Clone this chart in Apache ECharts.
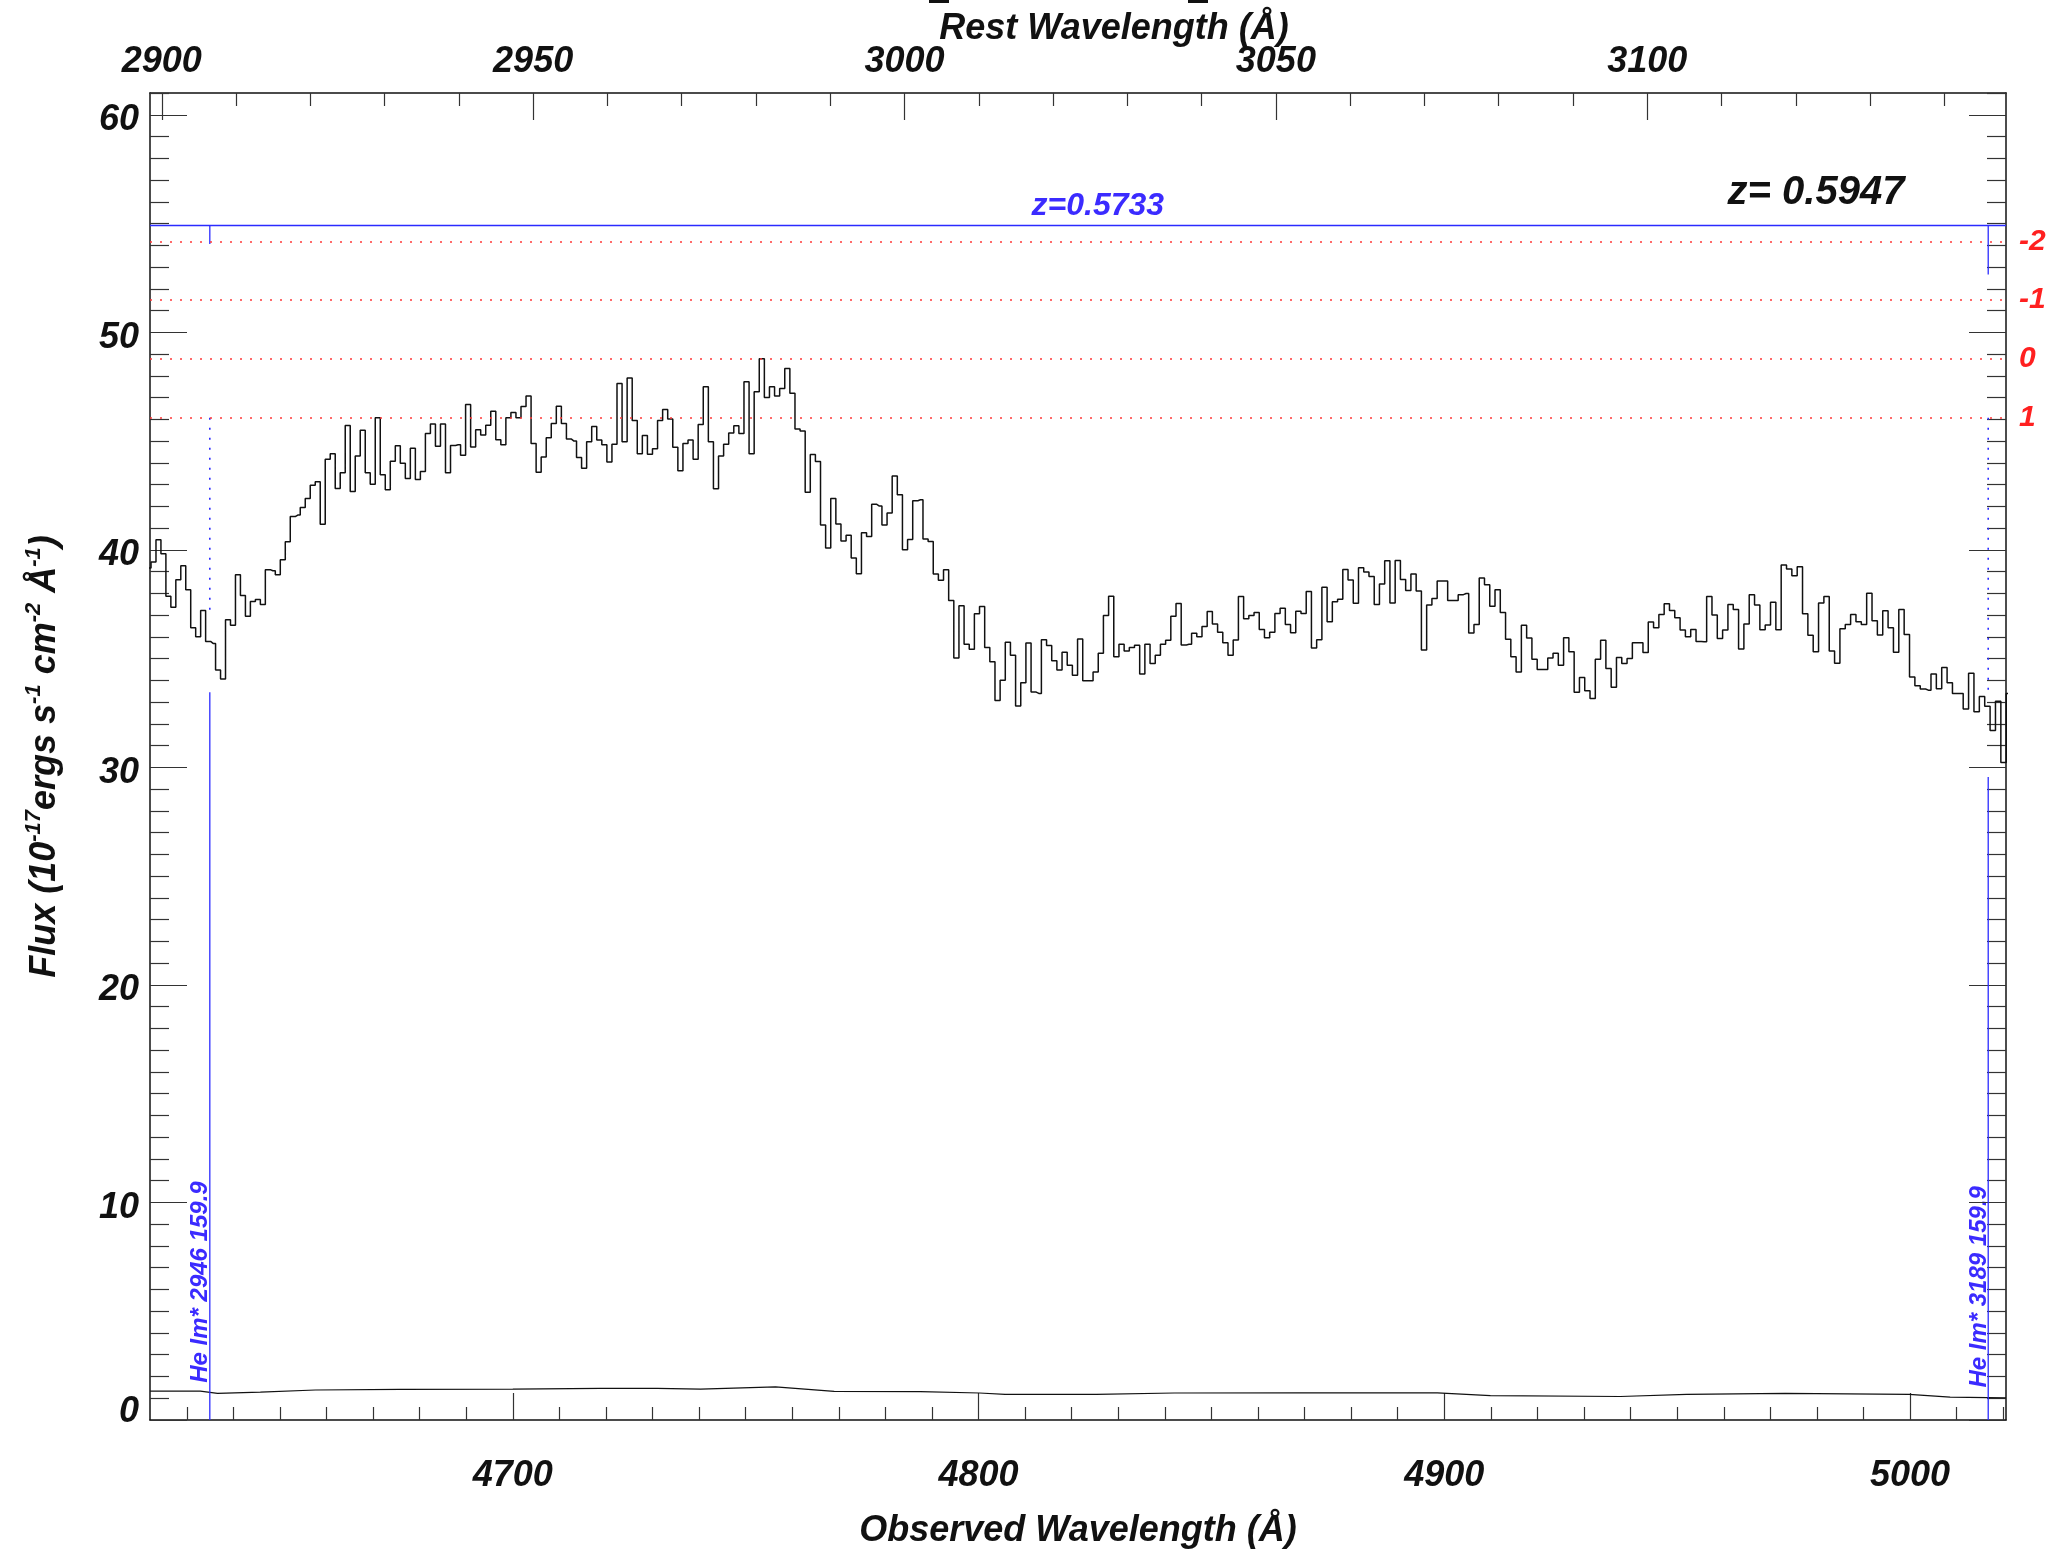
<!DOCTYPE html>
<html>
<head>
<meta charset="utf-8">
<script src="https://cdn.jsdelivr.net/npm/echarts@6.0.0/dist/echarts.min.js"></script>
<style>
html,body{margin:0;padding:0;background:#fff;}
#chart{width:2059px;height:1554px;}
</style>
</head>
<body>
<div id="chart"></div>
<script>
// ---------------- data ----------------
const zEmission = 0.5947;
const zAbsorber = 0.5733;
const obsRange = [4622.1, 5020.6];
const fluxRange = [0, 61];

const obsMajorTicks = [4700, 4800, 4900, 5000];
const restMajorTicks = [2900, 2950, 3000, 3050, 3100];
const fluxMajorTicks = [0, 10, 20, 30, 40, 50, 60];

// spectrum pixel grid (SDSS-like log-linear sampling)
const logLamStart = 3.66481;
const dLogLam = 1e-4;
const fluxValues = [
  39.16,
  39.44, 40.46, 39.82, 37.87, 37.36, 38.63, 39.27, 38.16, 36.42, 36.01,
  37.21, 35.79, 35.70, 34.48, 34.06, 36.79, 36.53, 38.86, 37.90, 36.95,
  37.62, 37.72, 37.49, 39.09, 39.04, 38.86, 39.54, 40.37, 41.53, 41.60,
  41.95, 42.36, 42.97, 43.13, 41.18, 44.16, 44.42, 42.82, 43.54, 45.72,
  42.68, 44.31, 45.50, 43.54, 43.02, 46.07, 43.45, 42.76, 44.07, 44.79,
  43.98, 43.28, 44.67, 43.23, 43.60, 45.35, 45.79, 44.76, 45.79, 43.54,
  44.80, 44.83, 44.35, 46.68, 44.73, 45.52, 45.28, 45.73, 46.37, 45.06,
  44.83, 46.07, 46.31, 46.07, 46.59, 47.07, 44.89, 43.57, 44.27, 45.15,
  45.81, 46.60, 45.81, 45.09, 45.00, 44.25, 43.75, 44.97, 45.67, 45.05,
  44.83, 44.04, 44.85,
  47.65, 44.97, 47.90, 45.95, 44.42, 45.26, 44.39, 44.65, 45.95, 46.45,
  46.01, 44.71, 43.63, 44.89, 45.05, 44.16, 45.76, 47.50, 44.97, 42.81,
  44.31, 44.85, 45.37, 45.70, 45.35, 47.73, 44.42, 47.27, 48.78, 47.00,
  47.50, 47.07, 47.42, 48.34, 47.20, 45.56, 45.46, 42.65, 44.38, 44.06,
  41.14, 40.09, 42.36, 41.19, 40.41, 40.67, 39.62, 38.90, 40.78, 40.61,
  42.09, 42.01, 41.14, 41.69, 43.39, 42.53, 40.00, 40.47, 42.26, 42.30,
  40.50, 40.38, 38.89, 38.60, 39.09, 37.67, 35.03, 37.43, 35.66, 35.43,
  37.06, 37.39, 35.51, 34.85, 33.07, 34.01, 35.75, 35.15, 32.82, 33.89,
  35.72, 33.46, 33.40, 35.87, 35.60, 34.90, 34.48, 35.29, 34.70, 34.24,
  35.90,
  33.98, 33.98, 34.39, 35.25, 36.98, 37.87, 35.09, 35.66, 35.35, 35.51,
  35.61, 34.29, 35.66, 34.77, 35.15, 35.66, 35.84, 36.95, 37.53, 35.63,
  35.66, 36.16, 36.01, 36.48, 37.17, 36.59, 36.21, 35.73, 35.15, 35.86,
  37.85, 36.83, 36.98, 37.12, 36.34, 35.96, 36.21, 37.07, 37.32, 36.57,
  36.19, 37.18, 37.07, 38.08, 35.49, 35.87, 38.28, 36.69, 37.61, 37.73,
  39.10, 38.61, 37.55, 39.18, 38.98, 38.77, 37.49, 38.43, 39.50, 37.56,
  39.51, 38.64, 38.13, 38.89, 38.11, 35.40, 37.46, 37.76, 38.57, 38.57,
  37.67, 37.67, 37.94, 37.99, 36.18, 36.57, 38.71, 38.39, 37.41, 38.17,
  37.12, 35.89, 35.09, 34.38, 36.53, 35.95, 34.97, 34.50, 34.50,
  35.03, 35.25, 34.70, 35.96, 35.31, 33.45, 34.13, 33.52, 33.17, 34.97,
  35.84, 34.54, 33.68, 35.05, 34.77, 35.00, 35.73, 35.73, 35.28, 36.68,
  36.42, 37.03, 37.52, 37.21, 36.88, 36.31, 36.01, 36.34, 35.79, 35.78,
  37.85, 37.00, 35.93, 36.31, 37.49, 37.26, 35.44, 36.59, 37.94, 37.46,
  36.33, 36.54, 37.59, 36.33, 39.30, 39.12, 38.81, 39.22, 37.06, 36.07,
  35.32, 37.56, 37.85, 35.35, 34.79, 36.37, 36.57, 37.03, 36.69, 36.57,
  38.00, 36.74, 36.08, 37.20, 36.42, 35.29, 37.26, 36.11, 34.16, 33.75,
  33.60, 33.55, 34.29, 33.61, 34.59, 33.89, 33.40, 33.40, 32.68, 34.33,
  32.56, 33.26, 32.81, 31.69, 33.04, 30.22, 33.40
];

// error spectrum (read coarsely)
const errWave = [4622.1, 4632.9, 4636.6, 4645.8, 4657.6, 4675.8, 4700.0, 4718.8, 4731.0, 4740.3, 4756.4, 4769.0, 4787.5, 4800.2, 4805.7, 4825.3, 4842.0, 4869.0, 4898.5, 4909.9, 4937.8, 4952.0, 4973.2, 4999.8, 5008.6, 5020.6];
const errValues = [1.33, 1.33, 1.22, 1.28, 1.38, 1.41, 1.42, 1.45, 1.45, 1.42, 1.52, 1.32, 1.30, 1.24, 1.18, 1.18, 1.24, 1.25, 1.25, 1.12, 1.08, 1.18, 1.22, 1.18, 1.05, 1.02];

// red dotted reference levels and their labels
const refLevels = [54.18, 51.48, 48.78, 46.07];
const refLabels = ['-2', '-1', '0', '1'];
const absorberLevel = 54.9;

// He I* line markers (absorber frame)
const heRest = [2946.0, 3188.7];
const heLabels = ['He Im* 2946 159.9', 'He Im* 3189 159.9'];
const heTickEnd = [54.06, 52.66];
const heDotTop = [46.07, 46.07];
const heDotBottom = [37.21, 33.37];
const heSolidTop = [33.45, 29.56];
const heLabelBase = [1.71, 1.49];

// annotation anchors
const zAbsLabelPos = [4825.6, absorberLevel];
const zEmLabelPos = [4979.8, 56.42];

// ---------------- derived ----------------
const obsWave = fluxValues.map((_, i) => Math.pow(10, logLamStart + i * dLogLam));
const restRange = obsRange.map(v => v / (1 + zEmission));
const obsMinorTicks = [];
for (let v = 4630; v <= 5020; v += 10) if (v % 100 !== 0) obsMinorTicks.push(v);
const restMinorTicks = [];
for (let v = 2900; v <= 3140; v += 10) if (v % 50 !== 0) restMinorTicks.push(v);
const fluxMinorTicks = [];
for (let v = 1; v <= 61; v += 1) if (v % 10 !== 0) fluxMinorTicks.push(v);
const heObs = heRest.map(r => r * (1 + zAbsorber));

const FONT = '"Liberation Sans", Arial, Helvetica, sans-serif';
const tickFont = {fontFamily: FONT, fontSize: 36, fontWeight: 'bold', fontStyle: 'italic', color: '#111'};
const titleFont = {fontFamily: FONT, fontSize: 36, fontWeight: 'bold', fontStyle: 'italic', color: '#111'};
const tickLine = {color: '#333', width: 1.2};
const axisLineStyle = {color: '#111', width: 1.5};
const fmt = v => String(v);

function xAx(position, range, ticks, len, major, extra) {
  return Object.assign({
    type: 'value', position: position, min: range[0], max: range[1],
    axisLine: {show: major, onZero: false, lineStyle: axisLineStyle},
    axisTick: {show: true, inside: true, length: len, customValues: ticks, lineStyle: tickLine},
    axisLabel: {show: false},
    nameMoveOverlap: false,
    splitLine: {show: false}, minorTick: {show: false}, axisPointer: {show: false}
  }, extra || {});
}
function yAx(position, ticks, len, major, extra) {
  return Object.assign({
    type: 'value', position: position, min: fluxRange[0], max: fluxRange[1],
    axisLine: {show: major, onZero: false, lineStyle: axisLineStyle},
    axisTick: {show: true, inside: true, length: len, customValues: ticks, lineStyle: tickLine},
    axisLabel: {show: false},
    nameMoveOverlap: false,
    splitLine: {show: false}, minorTick: {show: false}, axisPointer: {show: false}
  }, extra || {});
}

const heSeries = [];
heObs.forEach((w, i) => {
  const blue = '#2b2bff';
  heSeries.push({type: 'line', symbol: 'none', silent: true, animation: false, clip: true,
    data: [[w, absorberLevel], [w, heTickEnd[i]]], lineStyle: {color: blue, width: 1.3}});
  heSeries.push({type: 'line', symbol: 'none', silent: true, animation: false, clip: true,
    data: [[w, heDotTop[i]], [w, heDotBottom[i]]], lineStyle: {color: blue, width: 1.6, type: [2, 8]}});
  heSeries.push({type: 'line', symbol: 'none', silent: true, animation: false, clip: true,
    data: [[w, heSolidTop[i]], [w, fluxRange[0]]], lineStyle: {color: blue, width: 1.3}});
});

const yLabelRich = {
  d: Object.assign({padding: [11, 0, 0, 0]}, tickFont),
  z: Object.assign({padding: [0, 0, 15, 0]}, tickFont)
};

const chart = echarts.init(document.getElementById('chart'), null, {renderer: 'canvas'});
const option = {
  backgroundColor: '#ffffff',
  animation: false,
  grid: {left: 150, right: 53, top: 93, bottom: 127, containLabel: false},
  xAxis: [
    xAx('bottom', obsRange, obsMajorTicks, 27, true, {
      axisLabel: Object.assign({show: true, customValues: obsMajorTicks, margin: 38, formatter: fmt}, tickFont),
      name: 'Observed Wavelength (Å)', nameLocation: 'middle', nameGap: 93, nameTextStyle: titleFont
    }),
    xAx('bottom', obsRange, obsMinorTicks, 13, false),
    xAx('top', restRange, restMajorTicks, 27, true, {
      axisLabel: Object.assign({show: true, customValues: restMajorTicks, margin: 13, formatter: fmt}, tickFont),
      name: 'Rest Wavelength (Å)', nameLocation: 'middle', nameGap: 46,
      nameTextStyle: Object.assign({padding: [0, 0, 0, 72]}, titleFont)
    }),
    xAx('top', restRange, restMinorTicks, 13, false)
  ],
  yAxis: [
    yAx('left', fluxMajorTicks, 37, true, {
      axisLabel: Object.assign({show: true, customValues: fluxMajorTicks, margin: 11,
        formatter: v => (v === 0 ? '{z|0}' : '{d|' + v + '}'), rich: yLabelRich}, tickFont),
      name: '{n|Flux (10}{s|-17}{n|ergs s}{s|-1}{n| cm}{s|-2}{n| Å}{s|-1}{n|)}',
      nameLocation: 'middle', nameGap: 83, nameRotate: 90,
      nameTextStyle: {
        rich: {
          n: {fontFamily: FONT, fontSize: 36, fontWeight: 'bold', fontStyle: 'italic', color: '#111', lineHeight: 44},
          s: {fontFamily: FONT, fontSize: 22, fontWeight: 'bold', fontStyle: 'italic', color: '#111', lineHeight: 22, verticalAlign: 'top'}
        }
      }
    }),
    yAx('left', fluxMinorTicks, 19, false),
    yAx('right', fluxMajorTicks, 37, true),
    yAx('right', fluxMinorTicks, 19, false)
  ],
  series: [
    {
      name: 'flux', type: 'line', step: 'middle', symbol: 'none', clip: true, silent: true,
      xAxisIndex: 0, yAxisIndex: 0,
      data: obsWave.map((w, i) => [w, fluxValues[i]]),
      lineStyle: {color: '#111', width: 1.5},
      markLine: {
        silent: true, symbol: 'none', animation: false, label: {show: false},
        data: refLevels.map(v => ({yAxis: v, lineStyle: {color: '#ff3a3a', width: 1.6, type: [2, 8]}}))
          .concat([{yAxis: absorberLevel, lineStyle: {color: '#2b2bff', width: 1.3, type: 'solid'}}])
      }
    },
    {
      name: 'error', type: 'line', symbol: 'none', clip: true, silent: true,
      xAxisIndex: 0, yAxisIndex: 0,
      data: errWave.map((w, i) => [w, errValues[i]]),
      lineStyle: {color: '#111', width: 1.2}
    }
  ].concat(heSeries)
};
chart.setOption(option);

// text annotations placed through the axes' own scales
const toPx = (x, y) => chart.convertToPixel({xAxisIndex: 0, yAxisIndex: 0}, [x, y]);
const rightEdge = toPx(obsRange[1], 0)[0];
const graphics = [];
refLevels.forEach((v, i) => {
  const p = toPx(obsRange[1], v);
  graphics.push({type: 'text', x: rightEdge + 13, y: p[1], silent: true,
    style: {text: refLabels[i], fill: '#ff2020', font: 'italic bold 30px ' + FONT, align: 'left', verticalAlign: 'middle'}});
});
heObs.forEach((w, i) => {
  const p = toPx(w, heLabelBase[i]);
  graphics.push({type: 'text', x: p[0] + 3, y: p[1], rotation: Math.PI / 2, silent: true,
    style: {text: heLabels[i], fill: '#3b2bff', font: 'italic bold 24px ' + FONT, align: 'left', verticalAlign: 'bottom'}});
});
const pa = toPx(zAbsLabelPos[0], zAbsLabelPos[1]);
graphics.push({type: 'text', x: pa[0], y: pa[1] - 4, silent: true,
  style: {text: 'z=' + zAbsorber.toFixed(4), fill: '#3b2bff', font: 'italic bold 32px ' + FONT, align: 'center', verticalAlign: 'bottom'}});
const pe = toPx(zEmLabelPos[0], zEmLabelPos[1]);
graphics.push({type: 'text', x: pe[0], y: pe[1], silent: true,
  style: {text: 'z= ' + zEmission.toFixed(4), fill: '#111', font: 'italic bold 40px ' + FONT, align: 'center', verticalAlign: 'middle'}});
// bottoms of the clipped plot-title underscores peeking in at the top edge
graphics.push({type: 'rect', shape: {x: 929, y: 0, width: 20, height: 3}, style: {fill: '#111'}, silent: true});
graphics.push({type: 'rect', shape: {x: 1188, y: 0, width: 20, height: 3}, style: {fill: '#111'}, silent: true});
chart.setOption({graphic: graphics});
</script>
</body>
</html>
